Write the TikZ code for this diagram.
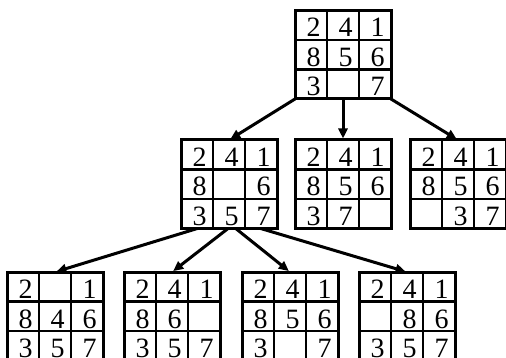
\documentclass[tikz,border=0pt]{standalone}
\usepackage{fontspec}
\setmainfont{Liberation Serif}
\usetikzlibrary{arrows.meta, calc, positioning}
\tikzset{
  font=\fontsize{28}{28}\selectfont,
  >={Triangle[length=10pt, width=9pt]},
  %
  board/.style={draw, line width=3pt, inner sep=0pt, outer sep=0pt,
                minimum width=96pt, minimum height=88.5pt},
  cellrule/.style={line width=2.7pt},
  digit/.style={anchor=base, inner sep=0pt},
  %
  move/.style={->, line width=3pt, shorten >=1.5pt},
}
% one 3x3 board: name, top-left corner, nine cells
\newcommand{\puzzle}[3]{%
  \node[board, anchor=north west] (#1) at (#2) {};
  \foreach \k in {1,2} {
    \draw[cellrule] ($(#1.north west)+(\k*32,0)$) -- ++(0,88.5);
    \draw[cellrule] ($(#1.north west)+(0,\k*29.5)$) -- ++(96,0);
  }
  \foreach \t [count=\i from 0] in {#3} {
    \pgfmathtruncatemacro\cc{mod(\i,3)}
    \pgfmathtruncatemacro\rr{div(\i,3)}
    \node[digit] at ($(#1.north west)+(\cc*32+18.5,\rr*29.5+26.5)$) {\t};
  }
}

\begin{document}
\begin{tikzpicture}[x=1pt, y=-1pt]
  \useasboundingbox (0,0) rectangle (506,358);

  % --- root --------------------------------------------------------------
  \puzzle{root}{295,10.5}{2,4,1,8,5,6,3,{},7}

  % --- first level -------------------------------------------------------
  \puzzle{left}{181,140}{2,4,1,8,{},6,3,5,7}
  \puzzle{down}{295,140}{2,4,1,8,5,6,3,7,{}}
  \puzzle{right}{410,140}{2,4,1,8,5,6,{},3,7}

  % --- second level ------------------------------------------------------
  \puzzle{up}{7,272}{2,{},1,8,4,6,3,5,7}
  \puzzle{east}{124,272}{2,4,1,8,6,{},3,5,7}
  \puzzle{south}{242,272}{2,4,1,8,5,6,3,{},7}
  \puzzle{west}{359,272}{2,4,1,{},8,6,3,5,7}

  % --- moves -------------------------------------------------------------
  \draw[move] (root.south west) -- (left.north);
  \draw[move] (root.south) -- (down.north);
  \draw[move] (root.south east) -- (right.north);

  \draw[move] ($(left.south west)!0.17!(left.south east)$) -- (up.north);
  \draw[move] ($(left.south west)!0.49!(left.south east)$) -- (east.north);
  \draw[move] ($(left.south west)!0.57!(left.south east)$) -- (south.north);
  \draw[move] ($(left.south west)!0.83!(left.south east)$) -- (west.north);

\end{tikzpicture}
\end{document}
